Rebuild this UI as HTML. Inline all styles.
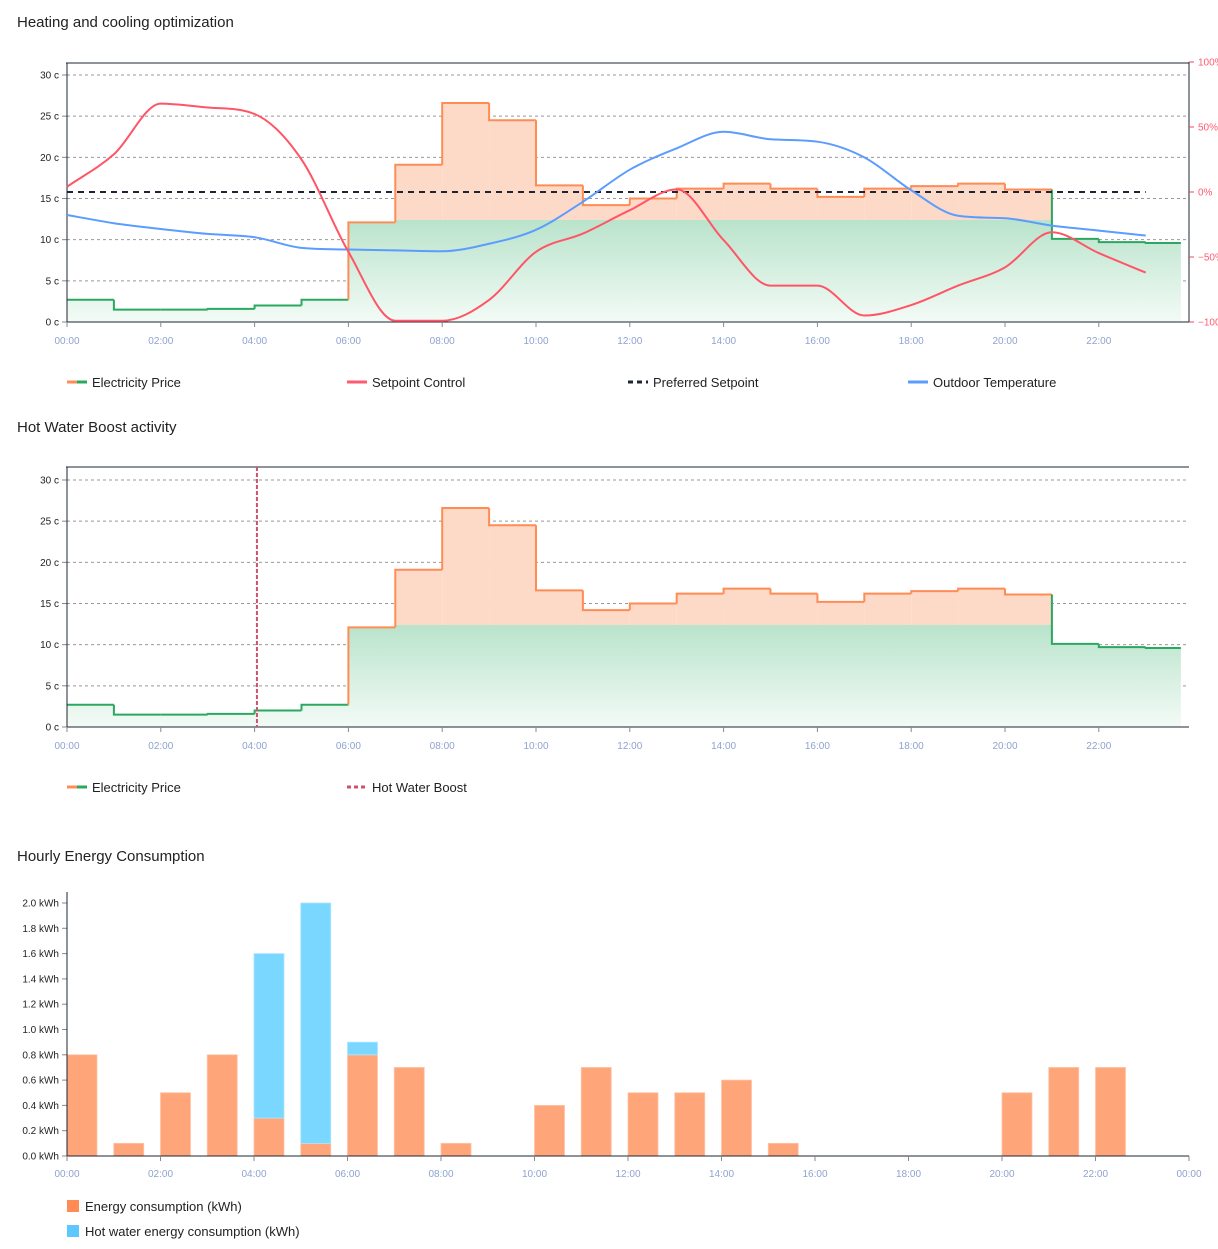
<!DOCTYPE html>
<html><head><meta charset="utf-8"><style>
body{margin:0;background:#fff;font-family:"Liberation Sans",sans-serif;}
svg text{font-family:"Liberation Sans",sans-serif;}
</style></head><body>
<svg id="s" width="1218" height="1244" xmlns="http://www.w3.org/2000/svg">
<defs>
<linearGradient id="gg" x1="0" y1="0" x2="0" y2="1"><stop offset="0" stop-color="#b9e3cb"/><stop offset="1" stop-color="#f3fbf6"/></linearGradient>
</defs>
</svg>
<script>
const hours=[0,1,2,3,4,5,6,7,8,9,10,11,12,13,14,15,16,17,18,19,20,21,22,23];
const price=[2.7,1.5,1.5,1.6,2.0,2.7,12.1,19.1,26.6,24.5,16.6,14.2,15.0,16.2,16.8,16.2,15.2,16.2,16.5,16.8,16.1,10.1,9.7,9.6];
const setpoint=[4,29,68,65,60,25,-46,-99,-99,-83,-46,-32,-14,2,-37,-72,-72,-95,-87,-72,-58,-31,-47,-62];
const outdoor=[13.0,12.0,11.3,10.7,10.3,9.0,8.8,8.7,8.6,9.5,11.2,14.6,18.5,21.1,23.1,22.2,21.9,20.0,16.0,12.9,12.6,11.7,11.1,10.5];
const preferred=0;
const boostHour=4.05;
const priceTicks=[0,5,10,15,20,25,30];
const pctTicks=[-100,-50,0,50,100];
const energy=[0.8,0.1,0.5,0.8,0.3,0.1,0.8,0.7,0.1,0,0.4,0.7,0.5,0.5,0.6,0.1,0,0,0,0,0.5,0.7,0.7,0];
const hotwater=[0,0,0,0,1.3,1.9,0.1,0,0,0,0,0,0,0,0,0,0,0,0,0,0,0,0,0];
const kwhTicks=[0,0.2,0.4,0.6,0.8,1.0,1.2,1.4,1.6,1.8,2.0];

const S=document.getElementById('s');
const NS='http://www.w3.org/2000/svg';
function el(t,a,p){const e=document.createElementNS(NS,t);for(const k in a)e.setAttribute(k,a[k]);(p||S).appendChild(e);return e;}
function txt(x,y,s,a,p){const e=el('text',Object.assign({x:x,y:y},a),p);e.textContent=s;return e;}
function hh(h){return (h%24<10?'0':'')+(h%24)+':00';}
const X0=67,HW=46.9;
function xs(h){return X0+h*HW;}
const CSPLIT=12.4;

function smooth(pts){
  const n=pts.length,dx=[],sl=[],m=[];
  for(let i=0;i<n-1;i++){dx[i]=pts[i+1][0]-pts[i][0];sl[i]=(pts[i+1][1]-pts[i][1])/dx[i];}
  m[0]=sl[0];m[n-1]=sl[n-2];
  for(let i=1;i<n-1;i++){m[i]=(sl[i-1]*sl[i]<=0)?0:(sl[i-1]+sl[i])/2;}
  for(let i=0;i<n-1;i++){if(sl[i]===0){m[i]=0;m[i+1]=0;continue;}const a=m[i]/sl[i],b=m[i+1]/sl[i],s=a*a+b*b;if(s>9){const t=3/Math.sqrt(s);m[i]=t*a*sl[i];m[i+1]=t*b*sl[i];}}
  let d='M'+pts[0][0]+','+pts[0][1];
  for(let i=0;i<n-1;i++){const h=dx[i]/3;d+=' C'+(pts[i][0]+h)+','+(pts[i][1]+m[i]*h)+' '+(pts[i+1][0]-h)+','+(pts[i+1][1]-m[i+1]*h)+' '+pts[i+1][0]+','+pts[i+1][1];}
  return d;
}

function priceChart(g,y0,y30,top){
  const ys=v=>y0+(y30-y0)*v/30;
  priceTicks.forEach(t=>{
    if(t>0){const l=el('line',{x1:X0,x2:1189,y1:ys(t),y2:ys(t),stroke:'#999','stroke-dasharray':'3,3'},g);}
    el('line',{x1:X0-5,x2:X0,y1:ys(t),y2:ys(t),stroke:'#888'},g);
    const tt=txt(X0-8,ys(t)+3.5,t+' c',{'font-size':10,'text-anchor':'end',fill:'#222'},g);
    
  });
  let dg='M'+xs(0)+','+ys(0);
  const end=23.75;
  for(let i=0;i<24;i++){
    const a=xs(i),b=xs(i===23?end:i+1),v=price[i],gv=Math.min(v,CSPLIT);
    dg+=' L'+a+','+ys(gv)+' L'+b+','+ys(gv);
    if(v>CSPLIT){const r=el('rect',{x:a,y:ys(v),width:b-a,height:ys(CSPLIT)-ys(v),fill:'#fdd9c8'},g);}
  }
  dg+=' L'+xs(end)+','+ys(0)+' Z';
  const f=el('path',{d:dg,fill:'url(#gg)'},g);
  for(let i=0;i<24;i++){
    const a=xs(i),b=xs(i===23?end:i+1),v=price[i];
    const col=v>11.5?'#ff8c55':'#2aa862';
    let d='M'+a+','+ys(i>0?price[i-1]:v)+' L'+a+','+ys(v)+' L'+b+','+ys(v);
    const p=el('path',{d:d,fill:'none',stroke:col,'stroke-width':2},g);
    
  }
  el('line',{x1:X0,x2:X0,y1:top,y2:y0,stroke:'#1e2433'},g);
  el('line',{x1:X0-1,x2:1189,y1:top,y2:top,stroke:'#1e2433'},g);
  el('line',{x1:X0,x2:1189,y1:y0,y2:y0,stroke:'#1e2433'},g);
  for(let h=0;h<24;h+=2){
    el('line',{x1:xs(h),x2:xs(h),y1:y0,y2:y0+5,stroke:'#888'},g);
    const t=txt(xs(h),y0+22,hh(h),{'font-size':10,'text-anchor':'middle',fill:'#8fa3cf'},g);
    
  }
  return ys;
}
function legend(y,items){
  items.forEach(it=>{
    const g=el('g',{});
    if(it.two){el('line',{x1:it.x,x2:it.x+10,y1:y,y2:y,stroke:'#ff8c55','stroke-width':3},g);el('line',{x1:it.x+10,x2:it.x+20,y1:y,y2:y,stroke:'#2aa862','stroke-width':3},g);}
    else el('line',{x1:it.x,x2:it.x+20,y1:y,y2:y,stroke:it.c,'stroke-width':3,'stroke-dasharray':it.dash||''},g);
    txt(it.x+25,y+5,it.t,{'font-size':13,fill:'#222'},g);
  });
}
function title(y,s){const t=txt(17,y,s,{'font-size':15,fill:'#222'});}

title(27,'Heating and cooling optimization');
const g1=el('g',{});
const ys1=priceChart(g1,322,75,63);
const yp=v=>192-v*1.3;
el('line',{x1:1189,x2:1189,y1:62,y2:322,stroke:'#1e2433'},g1);
pctTicks.forEach(t=>{el('line',{x1:1189,x2:1194,y1:yp(t),y2:yp(t),stroke:'#e84a5f'},g1);const tt=txt(1198,yp(t)+3.5,(t<0?'\u2212'+(-t):t)+'%',{'font-size':10,fill:'#ff5a6e'},g1);});
const pref=el('line',{x1:xs(0),x2:xs(23),y1:yp(preferred),y2:yp(preferred),stroke:'#1e2433','stroke-width':2,'stroke-dasharray':'6,5'},g1);

const od=el('path',{d:smooth(hours.map(h=>[xs(h),ys1(outdoor[h])])),fill:'none',stroke:'#5b9cff','stroke-width':2},g1);

const sp=el('path',{d:smooth(hours.map(h=>[xs(h),yp(setpoint[h])])),fill:'none',stroke:'#ff5566','stroke-width':2},g1);

legend(382,[{x:67,two:1,t:'Electricity Price'},{x:347,c:'#ff5a6e',t:'Setpoint Control'},{x:628,c:'#1e2433',dash:'5,4',t:'Preferred Setpoint'},{x:908,c:'#5b9cff',t:'Outdoor Temperature'}]);

title(432,'Hot Water Boost activity');
const g2=el('g',{});
priceChart(g2,727,480,467);
const bl=el('line',{x1:xs(boostHour),x2:xs(boostHour),y1:467,y2:727,stroke:'#d0506e','stroke-width':2,'stroke-dasharray':'4,2'},g2);

legend(787,[{x:67,two:1,t:'Electricity Price'},{x:347,c:'#d0506e',dash:'4,3',t:'Hot Water Boost'}]);

title(861,'Hourly Energy Consumption');
const g3=el('g',{});
const HW3=46.75,x3=h=>X0+h*HW3,yk=v=>1156-v*126.5;
kwhTicks.forEach(t=>{el('line',{x1:X0-5,x2:X0,y1:yk(t),y2:yk(t),stroke:'#888'},g3);const tt=txt(X0-8,yk(t)+3.5,t.toFixed(1)+' kWh',{'font-size':10,'text-anchor':'end',fill:'#222'},g3);});
hours.forEach(h=>{
  if(energy[h]>0){const r=el('rect',{x:x3(h),y:yk(energy[h]),width:30,height:yk(0)-yk(energy[h]),fill:'#ffa57a',stroke:'#ffc4a6','stroke-width':0.8},g3);}
  if(hotwater[h]>0){const r=el('rect',{x:x3(h),y:yk(energy[h]+hotwater[h]),width:30,height:yk(0)-yk(hotwater[h]),fill:'#7ad7ff',stroke:'#aee6ff','stroke-width':0.8},g3);}
});
el('line',{x1:X0,x2:X0,y1:892,y2:1156,stroke:'#1e2433'},g3);
el('line',{x1:X0,x2:1189,y1:1156,y2:1156,stroke:'#1e2433'},g3);
for(let h=0;h<=24;h+=2){el('line',{x1:x3(h),x2:x3(h),y1:1156,y2:1161,stroke:'#888'},g3);const t=txt(x3(h),1177,hh(h),{'font-size':10,'text-anchor':'middle',fill:'#8fa3cf'},g3);}
[[1206,'#ff8c55','Energy consumption (kWh)'],[1231,'#5cc8ff','Hot water energy consumption (kWh)']].forEach(a=>{
  const g=el('g',{});
  el('rect',{x:67,y:a[0]-6,width:12,height:12,fill:a[1]},g);
  txt(85,a[0]+5,a[2],{'font-size':13,fill:'#222'},g);
});
</script>
</body></html>
